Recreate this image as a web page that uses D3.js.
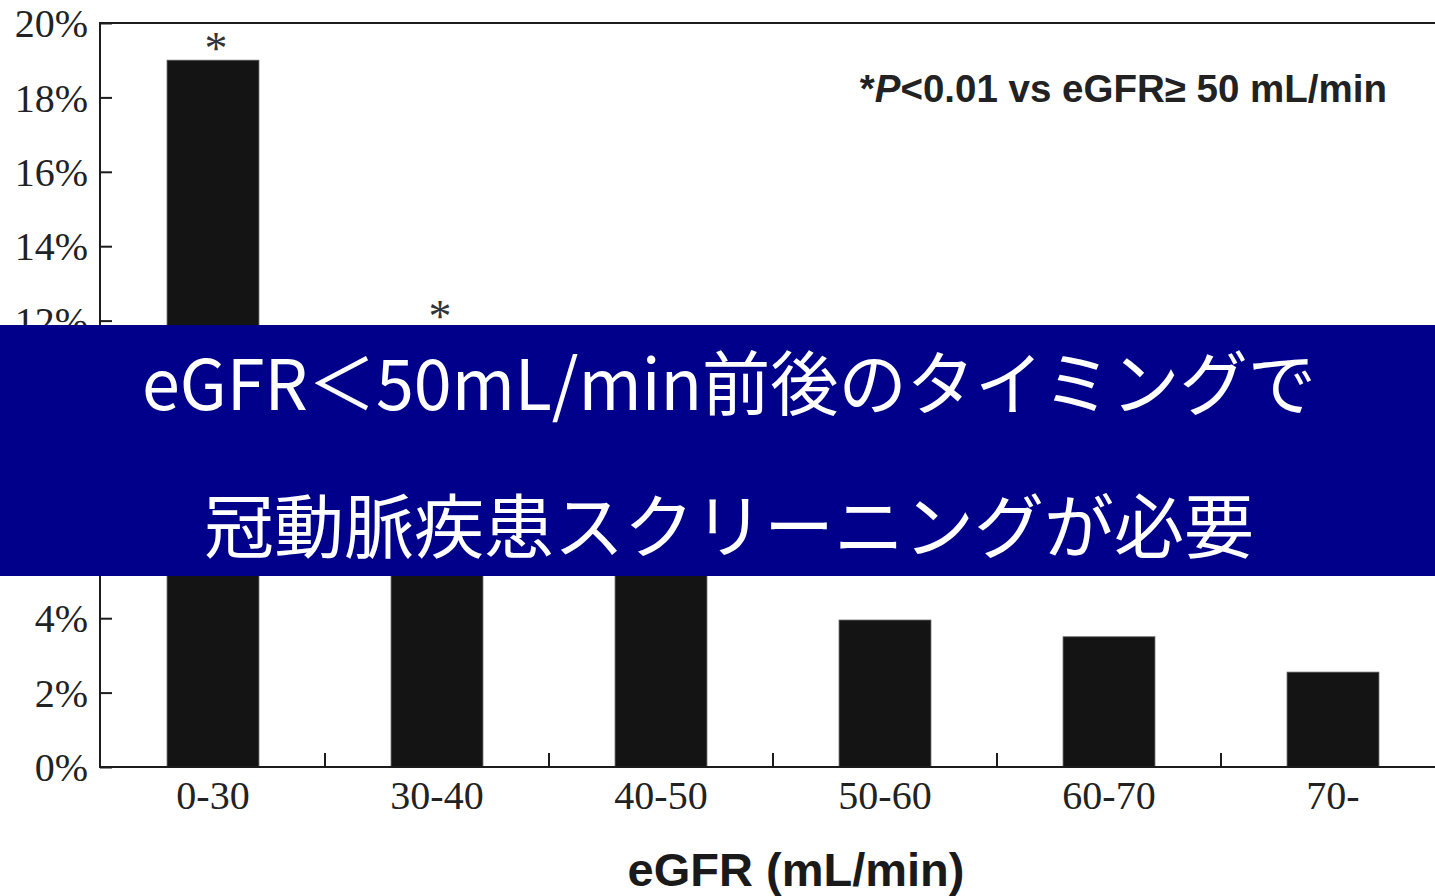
<!DOCTYPE html>
<html>
<head>
<meta charset="utf-8">
<script src="https://cdn.jsdelivr.net/npm/d3@7"></script>
<style>
  html, body { margin: 0; padding: 0; background: #fff; }
  svg { display: block; }
</style>
</head>
<body>
<svg id="chart" width="1435" height="896"></svg>
<script>
// eGFR groups and prevalence of coronary artery disease (%)
const categories = ["0-30", "30-40", "40-50", "50-60", "60-70", "70-"];
const prevalence = [19.0, 11.8, 7.2, 3.95, 3.5, 2.55];
const significant = [true, true, false, false, false, false];
const yTicks = [0, 2, 4, 6, 8, 10, 12, 14, 16, 18, 20];
const footnote = ["*", "P", "<0.01 vs eGFR\u2265 50 mL/min"];
const xTitle = "eGFR (mL/min)";
const bannerLines = ["eGFR\uFF1C50mL/min前後のタイミングで", "冠動脈疾患スクリーニングが必要"];

const W = 1435, H = 896;
const plotLeft = 100, plotTop = 23, plotBottom = 767;
const svg = d3.select("#chart");

const x = d3.scaleBand()
  .domain(categories)
  .range([plotLeft + 1, plotLeft + 1 + 224 * 6])
  .paddingInner(0.59)
  .paddingOuter(0.295);

const y = d3.scaleLinear().domain([0, 20]).range([plotBottom, plotTop]);

const ink = "#1c1c1c";
const serif = "'Liberation Serif', 'DejaVu Serif', serif";
const sans = "'Liberation Sans', Arial, sans-serif";

const rows = categories.map((c, i) => ({ c, v: prevalence[i], s: significant[i] }));

// bars
svg.append("g").selectAll("rect")
  .data(rows)
  .join("rect")
  .attr("x", d => x(d.c))
  .attr("y", d => y(d.v))
  .attr("width", x.bandwidth())
  .attr("height", d => y(0) - y(d.v))
  .attr("fill", "#141414")
  .attr("stroke", "#555")
  .attr("stroke-width", 0.8);

// significance marks
svg.append("g").selectAll("text")
  .data(rows.filter(d => d.s))
  .join("text")
  .attr("x", d => x(d.c) + x.bandwidth() / 2 + 3)
  .attr("y", d => y(d.v) + 4)
  .attr("text-anchor", "middle")
  .attr("font-family", serif)
  .attr("font-size", 46)
  .attr("fill", "#333")
  .text("*");

// y axis
const yAxis = d3.axisRight(y)
  .tickValues(yTicks)
  .tickSize(12)
  .tickFormat(d => d + "%");
const gy = svg.append("g").attr("transform", `translate(${plotLeft},0)`).call(yAxis);
gy.select(".domain").remove();
gy.selectAll(".tick line").attr("stroke", ink).attr("stroke-width", 2);
gy.selectAll(".tick text")
  .attr("x", -12)
  .attr("dy", "0.34em")
  .attr("text-anchor", "end")
  .attr("font-family", serif)
  .attr("font-size", 40)
  .attr("fill", "#222");

// frame: left and top lines
svg.append("line").attr("x1", plotLeft).attr("x2", plotLeft).attr("y1", plotTop).attr("y2", plotBottom)
  .attr("stroke", ink).attr("stroke-width", 2);
svg.append("line").attr("x1", plotLeft - 1).attr("x2", W).attr("y1", plotTop).attr("y2", plotTop)
  .attr("stroke", ink).attr("stroke-width", 2);

// x axis with ticks between groups
const xAxis = d3.axisBottom(x).tickSize(0).tickPadding(20);
const gx = svg.append("g").attr("transform", `translate(0,${plotBottom})`).call(xAxis);
gx.select(".domain").remove();
gx.selectAll(".tick text")
  .attr("font-family", serif)
  .attr("font-size", 40)
  .attr("fill", "#222")
  .attr("dy", "0.55em");
svg.append("line").attr("x1", plotLeft - 1).attr("x2", W).attr("y1", plotBottom).attr("y2", plotBottom)
  .attr("stroke", ink).attr("stroke-width", 2);
svg.append("g").selectAll("line")
  .data(categories.slice(0, -1))
  .join("line")
  .attr("x1", c => x(c) + x.bandwidth() + (x.step() - x.bandwidth()) / 2)
  .attr("x2", c => x(c) + x.bandwidth() + (x.step() - x.bandwidth()) / 2)
  .attr("y1", plotBottom)
  .attr("y2", plotBottom - 14)
  .attr("stroke", ink)
  .attr("stroke-width", 2);

// x axis title
svg.append("text")
  .attr("x", 796)
  .attr("y", 886)
  .attr("text-anchor", "middle")
  .attr("font-family", sans)
  .attr("font-weight", "bold")
  .attr("font-size", 47)
  .attr("fill", "#1a1a1a")
  .text(xTitle);

// footnote
const fn = svg.append("text")
  .attr("x", 1387)
  .attr("y", 102)
  .attr("text-anchor", "end")
  .attr("font-family", sans)
  .attr("font-weight", "bold")
  .attr("font-size", 38.5)
  .attr("fill", "#222");
fn.append("tspan").text(footnote[0]);
fn.append("tspan").attr("font-style", "italic").text(footnote[1]);
fn.append("tspan").text(footnote[2]);

// banner
svg.append("rect")
  .attr("x", 0).attr("y", 325)
  .attr("width", W).attr("height", 251)
  .attr("fill", "#00008b");
svg.append("g").selectAll("text")
  .data(bannerLines)
  .join("text")
  .attr("x", 729)
  .attr("y", (d, i) => [410, 553][i])
  .attr("text-anchor", "middle")
  .attr("font-family", "'Noto Sans CJK JP', 'Noto Sans', sans-serif")
  .attr("font-size", 70)
  .attr("textLength", (d, i) => [1174, 1050][i])
  .attr("lengthAdjust", "spacingAndGlyphs")
  .attr("fill", "#fff")
  .text(d => d);
</script>
</body>
</html>
